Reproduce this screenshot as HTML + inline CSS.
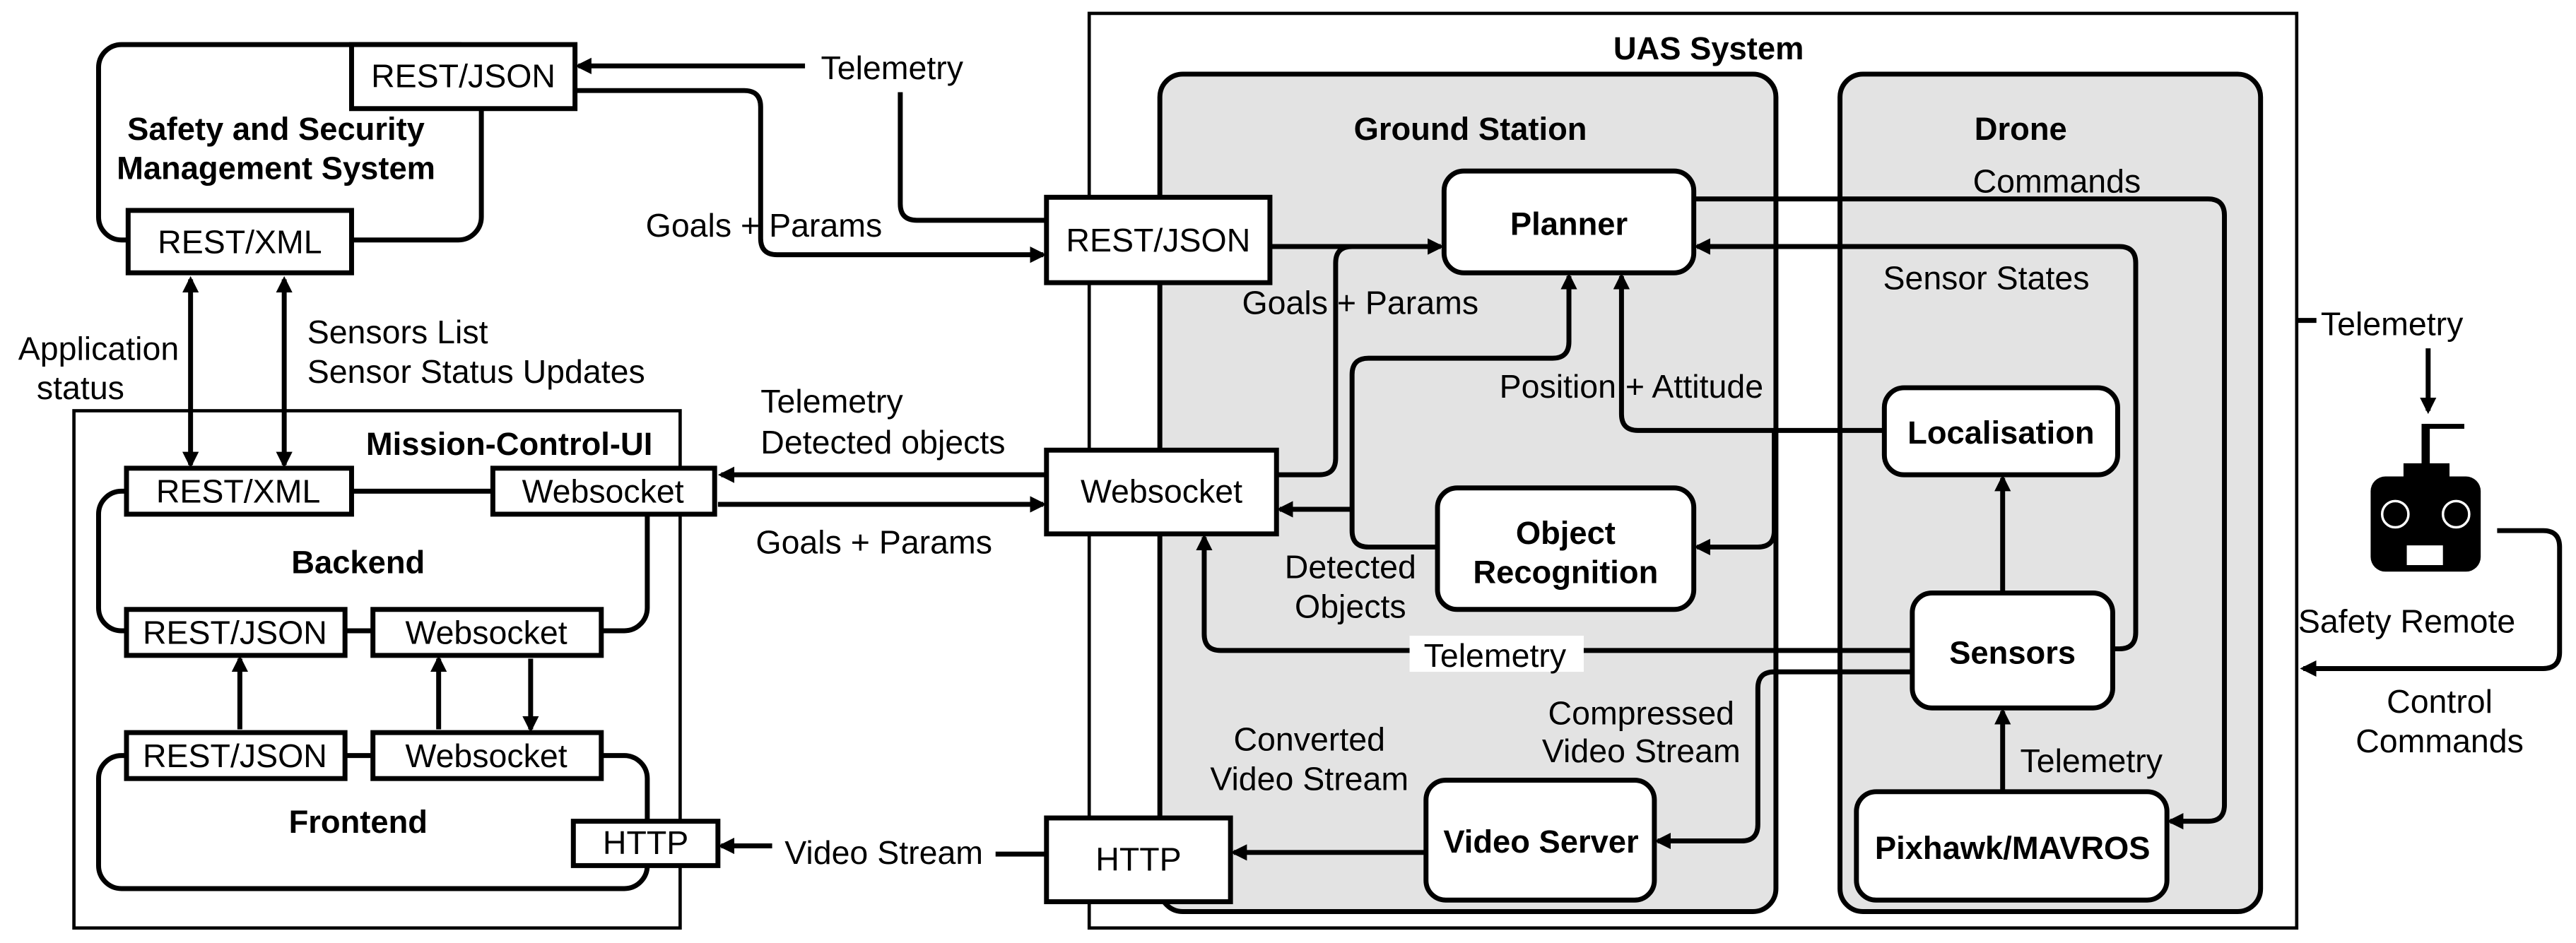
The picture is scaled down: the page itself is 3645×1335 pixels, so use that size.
<!DOCTYPE html>
<html><head><meta charset="utf-8"><style>
html,body{margin:0;padding:0;background:#fff;}
svg{display:block;}
text{font-family:"Liberation Sans",sans-serif;font-size:20px;fill:#000;}
.b{font-weight:bold;font-size:19.5px;}
.m{text-anchor:middle;}
.ln{fill:none;stroke:#000;stroke-width:3;}
.bx{fill:#fff;stroke:#000;stroke-width:3;}
.gr{fill:#e3e3e3;stroke:#000;stroke-width:3;}
</style></head><body>
<svg width="3645" height="1335" viewBox="0 0 1568 574" xmlns="http://www.w3.org/2000/svg">
<defs><marker id="a" markerWidth="10" markerHeight="10" refX="8" refY="5" orient="auto" markerUnits="userSpaceOnUse"><path d="M0,0 L10,5 L0,10 z" fill="#000"/></marker>
<marker id="s" markerWidth="10" markerHeight="10" refX="2" refY="5" orient="auto" markerUnits="userSpaceOnUse"><path d="M10,0 L0,5 L10,10 z" fill="#000"/></marker></defs>

<rect x="663" y="8" width="735" height="557" fill="#fff" stroke="#000" stroke-width="2"/>
<text x="1040" y="36" class="b m">UAS System</text>
<rect x="706" y="45" width="375" height="510" rx="14" class="gr"/>
<text x="895" y="85" class="b m">Ground Station</text>
<rect x="1120" y="45" width="256" height="510" rx="14" class="gr"/>
<text x="1230" y="85" class="b m">Drone</text>

<path class="ln" d="M773,150 H877" marker-end="url(#a)"/>
<path class="ln" d="M777,289 H803 Q813,289 813,279 V160 Q813,150 823,150 H860"/>
<path class="ln" d="M875,333 H833 Q823,333 823,323 V228 Q823,218 833,218 H945 Q955,218 955,208 V168" marker-end="url(#a)"/>
<path class="ln" d="M823,310 H779" marker-end="url(#a)"/>
<path class="ln" d="M1147,262 H997 Q987,262 987,252 V168" marker-end="url(#a)"/>
<path class="ln" d="M1080,262 V323 Q1080,333 1070,333 H1033" marker-end="url(#a)"/>
<path class="ln" d="M1286,395 H1290 Q1300,395 1300,385 V160 Q1300,150 1290,150 H1033" marker-end="url(#a)"/>
<path class="ln" d="M1031,121 H1344 Q1354,121 1354,131 V490 Q1354,500 1344,500 H1321" marker-end="url(#a)"/>
<path class="ln" d="M1219,361 V291" marker-end="url(#a)"/>
<path class="ln" d="M1219,482 V433" marker-end="url(#a)"/>
<path class="ln" d="M1164,396 H743 Q733,396 733,386 V327" marker-end="url(#a)"/>
<path class="ln" d="M1164,409 H1080 Q1070,409 1070,419 V502 Q1070,512 1060,512 H1009" marker-end="url(#a)"/>
<path class="ln" d="M868,519 H751" marker-end="url(#a)"/>
<rect x="858" y="387" width="106" height="22" fill="#fff"/>
<text x="910" y="406" class="m">Telemetry</text>

<rect x="879" y="104" width="152" height="62" rx="12" class="bx"/><text x="955" y="143" class="b m">Planner</text>
<rect x="875" y="297" width="156" height="74" rx="12" class="bx"/><text x="953" y="331" class="b m">Object</text><text x="953" y="355" class="b m">Recognition</text>
<rect x="1147" y="236" width="142" height="53" rx="12" class="bx"/><text x="1218" y="270" class="b m">Localisation</text>
<rect x="1164" y="361" width="122" height="70" rx="12" class="bx"/><text x="1225" y="404" class="b m">Sensors</text>
<rect x="868" y="475" width="139" height="73" rx="12" class="bx"/><text x="938" y="519" class="b m">Video Server</text>
<rect x="1130" y="482" width="189" height="66" rx="12" class="bx"/><text x="1225" y="523" class="b m">Pixhawk/MAVROS</text>
<rect x="637" y="120" width="136" height="52" class="bx"/><text x="705" y="153" class="m">REST/JSON</text>
<rect x="637" y="274" width="140" height="51" class="bx"/><text x="707" y="306" class="m">Websocket</text>
<rect x="637" y="498" width="112" height="51" class="bx"/><text x="693" y="530" class="m">HTTP</text>

<text x="828" y="191" class="m">Goals + Params</text>
<text x="993" y="242" class="m">Position + Attitude</text>
<text x="1209" y="176" class="m">Sensor States</text>
<text x="1252" y="117" class="m">Commands</text>
<text x="1273" y="470" class="m">Telemetry</text>
<text x="822" y="352" class="m">Detected</text><text x="822" y="376" class="m">Objects</text>
<text x="999" y="441" class="m">Compressed</text><text x="999" y="464" class="m">Video Stream</text>
<text x="797" y="457" class="m">Converted</text><text x="797" y="481" class="m">Video Stream</text>

<rect x="60" y="27" width="233" height="119" rx="14" class="bx"/>
<rect x="214" y="27" width="136" height="39" class="bx"/><text x="282" y="53" class="m">REST/JSON</text>
<rect x="78" y="128" width="136" height="38" class="bx"/><text x="146" y="154" class="m">REST/XML</text>
<text x="168" y="85" class="b m">Safety and Security</text><text x="168" y="109" class="b m">Management System</text>

<path class="ln" d="M637,134 H558 Q548,134 548,124 V56"/>
<text x="543" y="48" class="m">Telemetry</text>
<path class="ln" d="M490,40 H352" marker-end="url(#a)"/>
<path class="ln" d="M350,55 H453 Q463,55 463,65 V145 Q463,155 473,155 H635" marker-end="url(#a)"/>
<text x="465" y="144" class="m">Goals + Params</text>

<rect x="45" y="250" width="369" height="315" fill="#fff" stroke="#000" stroke-width="2"/>
<text x="310" y="277" class="b m">Mission-Control-UI</text>
<rect x="60" y="299" width="334" height="85" rx="14" class="bx"/>
<text x="218" y="349" class="b m">Backend</text>
<rect x="77" y="285" width="137" height="28" class="bx"/><text x="145" y="306" class="m">REST/XML</text>
<rect x="300" y="285" width="135" height="28" class="bx"/><text x="367" y="306" class="m">Websocket</text>
<rect x="77" y="371" width="133" height="28" class="bx"/><text x="143" y="392" class="m">REST/JSON</text>
<rect x="227" y="371" width="139" height="28" class="bx"/><text x="296" y="392" class="m">Websocket</text>
<rect x="60" y="460" width="334" height="81" rx="14" class="bx"/>
<text x="218" y="507" class="b m">Frontend</text>
<rect x="77" y="446" width="133" height="28" class="bx"/><text x="143" y="467" class="m">REST/JSON</text>
<rect x="227" y="446" width="139" height="28" class="bx"/><text x="296" y="467" class="m">Websocket</text>
<rect x="349" y="500" width="88" height="27" class="bx"/><text x="393" y="520" class="m">HTTP</text>

<path class="ln" d="M146,444 V401" marker-end="url(#a)"/>
<path class="ln" d="M267,444 V401" marker-end="url(#a)"/>
<path class="ln" d="M323,401 V444" marker-end="url(#a)"/>

<path class="ln" d="M116,170 V283" marker-start="url(#s)" marker-end="url(#a)"/>
<path class="ln" d="M173,170 V283" marker-start="url(#s)" marker-end="url(#a)"/>
<text x="60" y="219" class="m">Application</text><text x="49" y="243" class="m">status</text>
<text x="187" y="209">Sensors List</text><text x="187" y="233">Sensor Status Updates</text>

<path class="ln" d="M637,289 H439" marker-end="url(#a)"/>
<path class="ln" d="M437,307 H635" marker-end="url(#a)"/>
<text x="463" y="251">Telemetry</text><text x="463" y="276">Detected objects</text>
<text x="532" y="337" class="m">Goals + Params</text>

<path class="ln" d="M637,520 H606"/>
<text x="538" y="526" class="m">Video Stream</text>
<path class="ln" d="M470,515 H439" marker-end="url(#a)"/>

<path class="ln" d="M1398,195 H1410"/>
<text x="1456" y="204" class="m">Telemetry</text>
<path class="ln" d="M1478,212 V250" marker-end="url(#a)"/>
<g fill="#000">
<rect x="1443" y="290" width="67" height="58" rx="9"/>
<rect x="1474" y="258" width="5" height="36"/>
<rect x="1476" y="258" width="24" height="3"/>
<path d="M1463,282 H1491 V292 L1477,306 L1463,292 Z"/>
</g>
<g fill="none" stroke="#fff" stroke-width="1.5"><circle cx="1458" cy="313" r="8"/><circle cx="1495" cy="313" r="8"/></g>
<rect x="1465" y="332" width="22" height="12" fill="#fff"/>
<text x="1465" y="385" class="m">Safety Remote</text>
<path class="ln" d="M1520,323 H1548 Q1558,323 1558,333 V397 Q1558,407 1548,407 H1402" marker-end="url(#a)"/>
<text x="1485" y="434" class="m">Control</text><text x="1485" y="458" class="m">Commands</text>
</svg>
</body></html>
